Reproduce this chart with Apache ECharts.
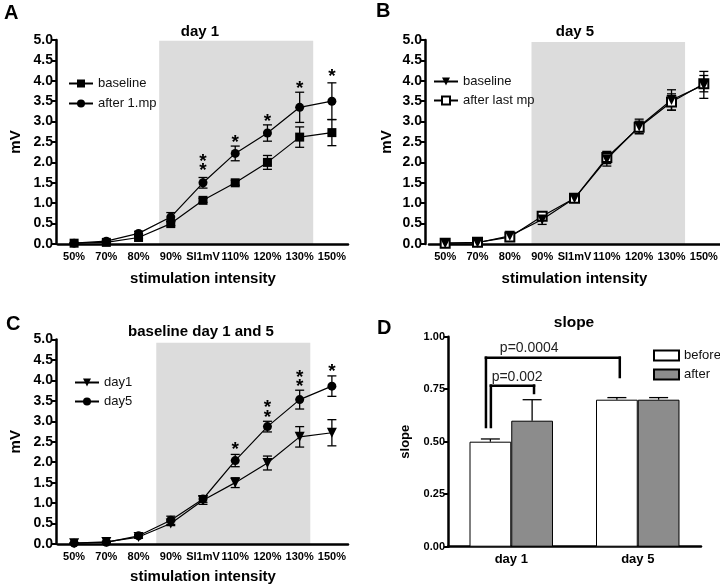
<!DOCTYPE html>
<html><head><meta charset="utf-8">
<script src="https://cdn.jsdelivr.net/npm/echarts@6/dist/echarts.min.js"></script>
<style>html,body{margin:0;padding:0;background:#fff}#c{width:720px;height:586px}</style>
</head><body><div id="c"></div>
<script>
const FONT = "'Liberation Sans', Arial, Helvetica, sans-serif";

// ---------- data ----------
const intensities = ['50%','70%','80%','90%','SI1mV','110%','120%','130%','150%'];

// Panel A (day 1)
const aBaseline    = [0.02,0.04,0.16,0.50,1.07,1.50,2.00,2.62,2.73];
const aBaselineErr = [0.01,0.02,0.03,0.05,0.05,0.06,0.17,0.25,0.32];
const aAfter       = [0.02,0.07,0.26,0.66,1.50,2.22,2.72,3.35,3.50];
const aAfterErr    = [0.01,0.02,0.05,0.11,0.13,0.18,0.20,0.37,0.45];
const aStars       = [[4,2.12],[4,1.89],[5,2.59],[6,3.10],[7,3.90],[8,4.20]];
const aShade       = [[2.64,7.42,4.98]];

// Panel B (day 5)
const bBaseline    = [0.02,0.03,0.20,0.60,1.12,2.08,2.88,3.53,3.90];
const bBaselineErr = [0.01,0.01,0.03,0.12,0.04,0.17,0.18,0.25,0.33];
const bAfter       = [0.02,0.04,0.17,0.68,1.12,2.12,2.86,3.48,3.93];
const bAfterErr    = [0.01,0.01,0.03,0.06,0.04,0.15,0.15,0.20,0.20];
const bShade       = [[2.67,7.42,4.95]];

// Panel C (baseline day 1 and 5)
const cDay1        = [0.02,0.05,0.17,0.50,1.07,1.50,1.98,2.62,2.72];
const cDay1Err     = [0.01,0.02,0.03,0.05,0.10,0.12,0.17,0.25,0.32];
const cDay5        = [0.02,0.04,0.20,0.58,1.10,2.04,2.87,3.53,3.86];
const cDay5Err     = [0.01,0.01,0.03,0.10,0.08,0.15,0.13,0.23,0.25];
const cStars       = [[5,2.40],[6,3.42],[6,3.18],[7,4.17],[7,3.93],[8,4.31]];
const cShade       = [[2.55,7.33,4.92]];

// Panel D (slope)
const slopeCats      = ['day 1','day 5'];
const slopeBefore    = [0.50,0.70];
const slopeBeforeErr = [0.013,0.01];
const slopeAfter     = [0.60,0.70];
const slopeAfterErr  = [0.10,0.01];
// brackets: [xLeft, xRight, top, leftBottom, rightBottom, labelX, labelY]
const bracketLabels = ['p=0.002','p=0.0004'];
const brackets = [
  [-0.161, 0.180, 0.767, 0.564, 0.726, -0.155, 0.776],
  [-0.200, 0.858, 0.900, 0.564, 0.802, -0.090, 0.910]
];

// ---------- helpers ----------
const BLACK = '#000';
const BAR_HALF_OFFSET = 0.165; // bar centre offset from category centre (band units)
function errData(vals, errs){
  return vals.map((v,i)=>[i, v-errs[i], v+errs[i]]);
}
function errRender(capW){
  return function(params, api){
    const x = api.value(0), lo = api.value(1), hi = api.value(2);
    const p1 = api.coord([x, lo]), p2 = api.coord([x, hi]);
    const st = {stroke:BLACK, lineWidth:1.3};
    return {type:'group', children:[
      {type:'line', shape:{x1:p1[0],y1:p1[1],x2:p2[0],y2:p2[1]}, style:st},
      {type:'line', shape:{x1:p1[0]-capW/2,y1:p1[1],x2:p1[0]+capW/2,y2:p1[1]}, style:st},
      {type:'line', shape:{x1:p2[0]-capW/2,y1:p2[1],x2:p2[0]+capW/2,y2:p2[1]}, style:st}
    ]};
  };
}
function upErrRender(capW){
  return function(params, api){
    const x = api.value(0), lo = api.value(1), hi = api.value(2);
    const p1 = api.coord([x, lo]), p2 = api.coord([x, hi]);
    const st = {stroke:BLACK, lineWidth:1.3};
    return {type:'group', children:[
      {type:'line', shape:{x1:p1[0],y1:p1[1],x2:p2[0],y2:p2[1]}, style:st},
      {type:'line', shape:{x1:p2[0]-capW/2,y1:p2[1],x2:p2[0]+capW/2,y2:p2[1]}, style:st}
    ]};
  };
}
function shadeRender(params, api){
  const a = api.coord([api.value(0), api.value(2)]);
  const b = api.coord([api.value(1), 0]);
  return {type:'rect', shape:{x:a[0], y:a[1], width:b[0]-a[0], height:b[1]-a[1]}, style:{fill:'#dcdcdc'}};
}
function starRender(params, api){
  const p = api.coord([api.value(0), api.value(1)]);
  return {type:'text', x:p[0], y:p[1]+4, style:{text:'*', align:'center', verticalAlign:'middle', fontSize:19, fontWeight:'bold', fontFamily:FONT, fill:BLACK}};
}
function bracketRender(params, api){
  const l = api.coord([api.value(0), api.value(2)]);
  const r = api.coord([api.value(1), api.value(2)]);
  const lb = api.coord([api.value(0), api.value(3)]);
  const rb = api.coord([api.value(1), api.value(4)]);
  const lab = api.coord([api.value(5), api.value(6)]);
  const st = {stroke:BLACK, lineWidth:2.5, fill:null};
  return {type:'group', children:[
    {type:'line', shape:{x1:lb[0],y1:lb[1],x2:l[0],y2:l[1]-1.25}, style:st},
    {type:'line', shape:{x1:l[0]-1.25,y1:l[1],x2:r[0]+1.25,y2:r[1]}, style:st},
    {type:'line', shape:{x1:rb[0],y1:rb[1],x2:r[0],y2:r[1]-1.25}, style:st},
    {type:'text', x:lab[0], y:lab[1], style:{text:bracketLabels[params.dataIndex], align:'left', verticalAlign:'bottom', fontSize:14, fontFamily:FONT, fill:'#222'}}
  ]};
}
function catX(gridIndex, data, extra){
  return Object.assign({
    type:'category', gridIndex, data, boundaryGap:true,
    axisLine:{onZero:false,lineStyle:{color:BLACK,width:2.5}},
    axisTick:{alignWithLabel:true,length:5,lineStyle:{color:BLACK,width:1.5}},
    axisLabel:{color:BLACK,fontWeight:'bold',fontSize:11,fontFamily:FONT,margin:7,interval:0},
    splitLine:{show:false},
    nameLocation:'middle',
    nameTextStyle:{color:BLACK,fontWeight:'bold',fontSize:15,fontFamily:FONT}
  }, extra||{});
}
function valX(gridIndex, min, max){
  return {type:'value', gridIndex, min, max, show:false, axisLine:{onZero:false}, splitLine:{show:false}};
}
function mvY(gridIndex, extra){
  return Object.assign({
    type:'value', gridIndex, min:0, max:5, interval:0.5,
    axisLine:{show:true,onZero:false,lineStyle:{color:BLACK,width:2.5}},
    axisTick:{show:true,length:4,lineStyle:{color:BLACK,width:2}},
    axisLabel:{color:BLACK,fontWeight:'bold',fontSize:14,fontFamily:FONT,margin:3,formatter:v=>v.toFixed(1)},
    splitLine:{show:false},
    name:'mV', nameLocation:'middle', nameRotate:90,
    nameTextStyle:{color:BLACK,fontWeight:'bold',fontSize:15,fontFamily:FONT}
  }, extra||{});
}
function lineSeries(name, data, xi, yi, symbol, extra){
  return Object.assign({
    type:'line', name, data, xAxisIndex:xi, yAxisIndex:yi,
    symbol, symbolSize:9, z:3,
    lineStyle:{color:BLACK,width:1.2},
    itemStyle:{color:BLACK},
    emphasis:{disabled:true}
  }, extra||{});
}
function custom(data, xi, yi, render, z){
  return {type:'custom', data, xAxisIndex:xi, yAxisIndex:yi, renderItem:render, z:z, silent:true, clip:false};
}

const legendText = {fontSize:13,fontFamily:FONT,color:'#111'};
const fmt = n => n.split('|').pop();

const dErrData = slopeBefore.map((v,i)=>[i-BAR_HALF_OFFSET, v, v+slopeBeforeErr[i]])
  .concat(slopeAfter.map((v,i)=>[i+BAR_HALF_OFFSET, v, v+slopeAfterErr[i]]));

const option = {
  animation:false,
  backgroundColor:'#fff',
  grid:[
    {left:58, top:40, width:290, height:204, outerBoundsMode:'none'},
    {left:429, top:40, width:291, height:204, outerBoundsMode:'none'},
    {left:58, top:339.5, width:290, height:204.5, outerBoundsMode:'none'},
    {left:448, top:336.7, width:253, height:210, outerBoundsMode:'none'}
  ],
  xAxis:[
    catX(0, intensities, {name:'stimulation intensity', nameGap:27}),
    catX(1, intensities, {name:'stimulation intensity', nameGap:27}),
    catX(2, intensities, {name:'stimulation intensity', nameGap:25}),
    catX(3, slopeCats, {axisTick:{show:false}, axisLabel:{color:BLACK,fontWeight:'bold',fontSize:13,fontFamily:FONT,margin:6}}),
    valX(0,-0.5,8.5), valX(1,-0.5,8.5), valX(2,-0.5,8.5), valX(3,-0.5,1.5)
  ],
  yAxis:[
    mvY(0,{offset:2,nameGap:33}),
    mvY(1,{offset:4,nameGap:31}),
    mvY(2,{offset:2,nameGap:33}),
    {type:'value', gridIndex:3, min:0, max:1, interval:0.25,
     axisLine:{show:true,onZero:false,lineStyle:{color:BLACK,width:2.5}},
     axisTick:{show:true,length:4,lineStyle:{color:BLACK,width:2}},
     axisLabel:{color:BLACK,fontWeight:'bold',fontSize:11,fontFamily:FONT,margin:3,formatter:v=>v.toFixed(2)},
     splitLine:{show:false},
     name:'slope', nameLocation:'middle', nameRotate:90, nameGap:36,
     nameTextStyle:{color:BLACK,fontWeight:'bold',fontSize:13,fontFamily:FONT}}
  ],
  legend:[
    {data:['baseline','after 1.mp'], left:68, top:77, orient:'vertical', padding:0, itemWidth:24, itemHeight:10, itemGap:7, selectedMode:false, textStyle:legendText, formatter:fmt},
    {data:['B|baseline','B|after last mp'], left:433, top:75, orient:'vertical', padding:0, itemWidth:24, itemHeight:10, itemGap:6, selectedMode:false, textStyle:legendText, formatter:fmt, itemStyle:{borderWidth:1}},
    {data:['C|day1','C|day5'], left:74, top:376, orient:'vertical', padding:0, itemWidth:24, itemHeight:10, itemGap:6, selectedMode:false, textStyle:legendText, formatter:fmt},
    {data:['before','after'], left:653, top:349, orient:'vertical', padding:0, itemWidth:25, itemHeight:10, itemGap:6, icon:'rect', selectedMode:false, textStyle:legendText}
  ],
  graphic:[
    {type:'text', left:4, top:3, style:{text:'A', fontSize:20, fontWeight:'bold', fontFamily:FONT, fill:BLACK}},
    {type:'text', left:376, top:1, style:{text:'B', fontSize:20, fontWeight:'bold', fontFamily:FONT, fill:BLACK}},
    {type:'text', left:6, top:314, style:{text:'C', fontSize:20, fontWeight:'bold', fontFamily:FONT, fill:BLACK}},
    {type:'text', left:377, top:318, style:{text:'D', fontSize:20, fontWeight:'bold', fontFamily:FONT, fill:BLACK}},
    {type:'text', x:200, y:32, style:{text:'day 1', align:'center', verticalAlign:'middle', fontSize:15, fontWeight:'bold', fontFamily:FONT, fill:BLACK}},
    {type:'text', x:575, y:32, style:{text:'day 5', align:'center', verticalAlign:'middle', fontSize:15, fontWeight:'bold', fontFamily:FONT, fill:BLACK}},
    {type:'text', x:201, y:332, style:{text:'baseline day 1 and 5', align:'center', verticalAlign:'middle', fontSize:15, fontWeight:'bold', fontFamily:FONT, fill:BLACK}},
    {type:'text', x:574, y:323, style:{text:'slope', align:'center', verticalAlign:'middle', fontSize:15.5, fontWeight:'bold', fontFamily:FONT, fill:BLACK}}
  ],
  series:[
    // Panel A
    custom(aShade, 4, 0, shadeRender, 0),
    custom(errData(aBaseline,aBaselineErr), 0, 0, errRender(9), 2),
    custom(errData(aAfter,aAfterErr), 0, 0, errRender(9), 2),
    lineSeries('baseline', aBaseline, 0, 0, 'rect'),
    lineSeries('after 1.mp', aAfter, 0, 0, 'circle'),
    custom(aStars, 0, 0, starRender, 4),
    // Panel B
    custom(bShade, 5, 1, shadeRender, 0),
    custom(errData(bBaseline,bBaselineErr), 1, 1, errRender(9), 2),
    custom(errData(bAfter,bAfterErr), 1, 1, errRender(9), 2),
    lineSeries('B|after last mp', bAfter, 1, 1, 'emptyRect', {itemStyle:{color:BLACK,borderWidth:1.5}}),
    lineSeries('B|baseline', bBaseline, 1, 1, 'triangle', {symbolRotate:180, symbolSize:10}),
    // Panel C
    custom(cShade, 6, 2, shadeRender, 0),
    custom(errData(cDay1,cDay1Err), 2, 2, errRender(9), 2),
    custom(errData(cDay5,cDay5Err), 2, 2, errRender(9), 2),
    lineSeries('C|day1', cDay1, 2, 2, 'triangle', {symbolRotate:180, symbolSize:10}),
    lineSeries('C|day5', cDay5, 2, 2, 'circle'),
    custom(cStars, 2, 2, starRender, 4),
    // Panel D
    {type:'bar', name:'before', data:slopeBefore, xAxisIndex:3, yAxisIndex:3, barGap:'0%', barCategoryGap:'34%',
     itemStyle:{color:'#fff', borderColor:BLACK, borderWidth:1}, emphasis:{disabled:true}},
    {type:'bar', name:'after', data:slopeAfter, xAxisIndex:3, yAxisIndex:3, barGap:'0%', barCategoryGap:'34%',
     itemStyle:{color:'#8c8c8c', borderColor:BLACK, borderWidth:1}, emphasis:{disabled:true}},
    custom(dErrData, 7, 3, upErrRender(19), 3),
    custom(brackets, 7, 3, bracketRender, 4)
  ]
};
const chart = echarts.init(document.getElementById('c'), null, {renderer:'canvas'});
chart.setOption(option);
</script>
</body></html>
